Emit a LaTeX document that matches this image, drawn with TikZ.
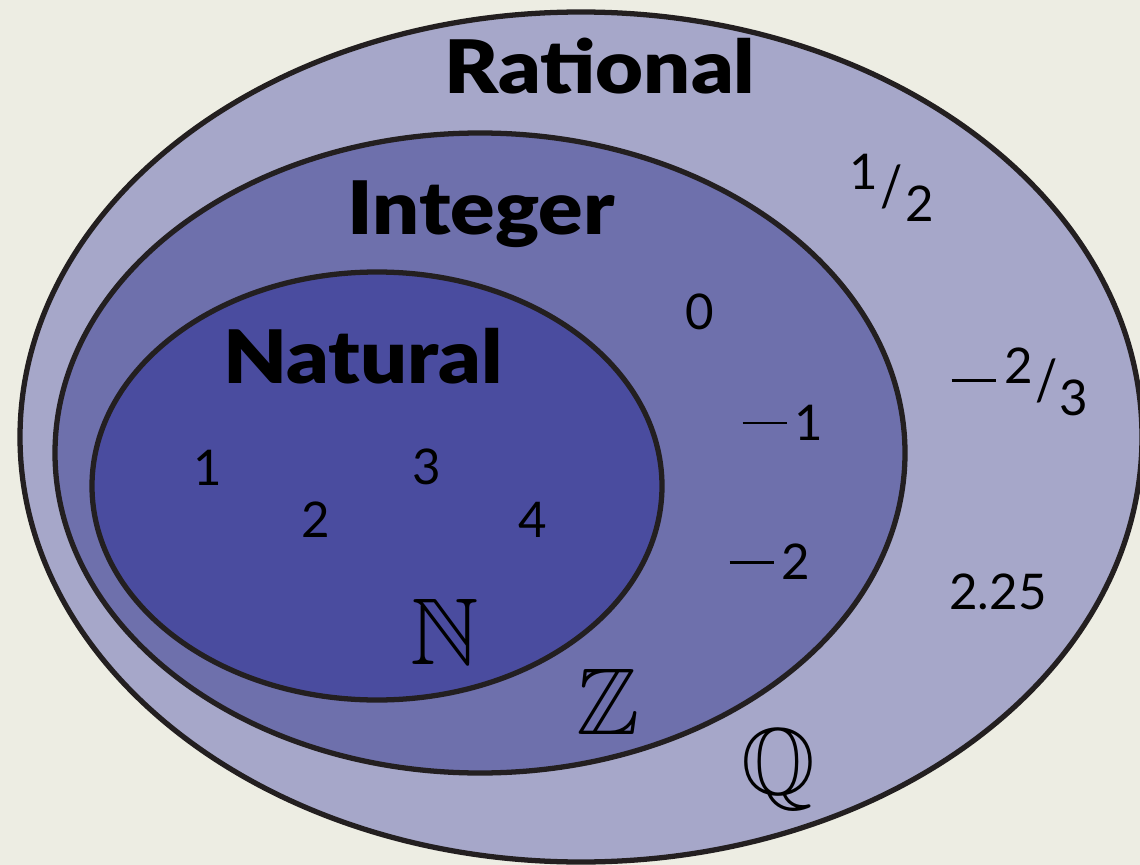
\documentclass[tikz,border=0pt]{standalone}
\usepackage{amsmath,amssymb}
\usepackage{fontspec}
\setmainfont{Lato}[BoldFont={Lato Black}]
\usepackage{tikz}

\definecolor{paper}{HTML}{EDEDE3}
\definecolor{ratfill}{HTML}{A6A7C9}
\definecolor{intfill}{HTML}{6E70AC}
\definecolor{natfill}{HTML}{4A4C9F}
\definecolor{rim}{HTML}{231F20}

\newcommand\slfrac[2]{\raisebox{0.3em}{#1}\kern0.05em\raisebox{-0.05em}{\scalebox{1}[1.15]{/}}\kern0.05em\raisebox{-0.35em}{#2}}
\newcommand\mns{\raisebox{0.33em}{\rule{0.9em}{0.055em}}\,}

\tikzset{
  setname/.style={font=\fontsize{42}{42}\selectfont\bfseries,xscale=1.12},
  member/.style={font=\fontsize{28}{28}\selectfont},
  symb/.style={font=\fontsize{54}{54}\selectfont},
  ring/.style={draw=rim,line width=3pt}
}

\begin{document}
\begin{tikzpicture}[x=0.02cm,y=-0.02cm]
 \useasboundingbox (0,0) rectangle (1140,865);
 \clip (0,0) rectangle (1140,865);
 \fill[paper] (0,0) rectangle (1140,865);
 % the three sets
 \draw[ring,fill=ratfill] (581,437) ellipse[x radius=561,y radius=425];
 \draw[ring,fill=intfill] (480,453) ellipse[x radius=425,y radius=320];
 \draw[ring,fill=natfill] (377,486) ellipse[x radius=285,y radius=214];
 % names
 \node[setname] (rat) at (600,66) {Rational};
 \node[setname] (int) at (481,214) {Integer};
 \node[setname] (nat) at (363,356) {Natural};
 % members
 \foreach \n/\x/\y in {1/208/468,3/427/467,2/316/520,4/533/520,0/700/312}
   \node[member] (n\n) at (\x,\y) {\n};
 \node[member] (m1) at (783,423) {\mns1};
 \node[member] (m2) at (770,562) {\mns2};
 \node[member] (half) at (892,188) {\slfrac{1}{2}};
 \node[member] (twothirds) at (1020,382) {\mns\slfrac{2}{3}};
 \node[member] (dec) at (998,592) {2.25};
 % set symbols
 \node[symb] (N) at (445,632) {$\mathbb{N}$};
 \node[symb] (Z) at (608,702) {$\mathbb{Z}$};
 \node[symb] (Q) at (778,770) {$\mathbb{Q}$};
\end{tikzpicture}
\end{document}
